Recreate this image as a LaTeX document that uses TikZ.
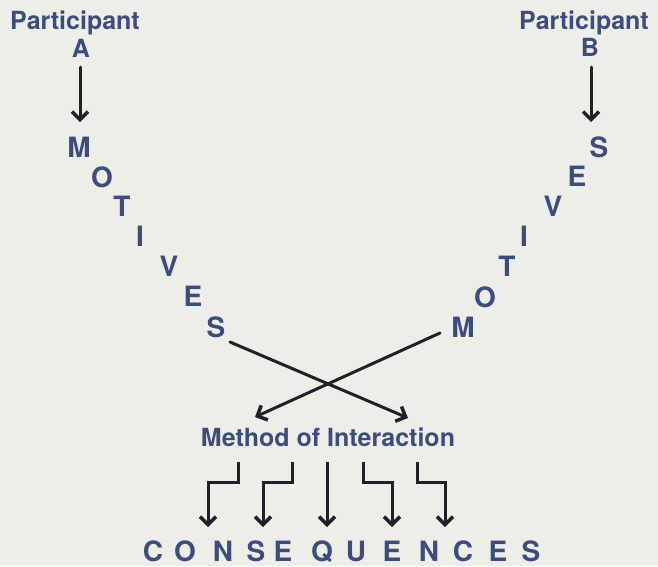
\documentclass[tikz,border=0pt]{standalone}
\usepackage{fontspec}
\setmainfont{TeX Gyre Heros}
\usetikzlibrary{arrows.meta}
\definecolor{ink}{HTML}{3A4D7E}
\definecolor{bg}{HTML}{EEEEE8}
\definecolor{arr}{HTML}{202028}
\begin{document}
\begin{tikzpicture}[x=1pt,y=-1pt,
  lab/.style={font=\fontsize{25}{25}\selectfont\bfseries, text=ink, inner sep=0pt, anchor=base},
  big/.style={font=\fontsize{28}{28}\selectfont\bfseries, text=ink, inner sep=0pt, anchor=base},
  conn/.style={draw=arr, line width=3pt, line cap=round, -{Straight Barb[length=8pt,width=16pt,line width=3.5pt]}}]
\fill[bg] (0,0) rectangle (658,566);
\useasboundingbox (0,0) rectangle (658,566);
% participants
\node[lab] (pA) at (75,29) {Participant};
\node[lab] (A) at (81,57) {A};
\node[lab] (pB) at (584,29) {Participant};
\node[lab] (B) at (590,56) {B};
% left MOTIVES
\node[big] (lM) at (79,157) {M};
\node[big] (lO) at (102,187) {O};
\node[big] (lT) at (122,216) {T};
\node[big] (lI) at (140,246) {I};
\node[big] (lV) at (169,276) {V};
\node[big] (lE) at (193,306) {E};
\node[big] (lS) at (216,337) {S};
% right MOTIVES
\node[big] (rS) at (599,157) {S};
\node[big] (rE) at (577,186) {E};
\node[big] (rV) at (553,216) {V};
\node[big] (rI) at (524,246) {I};
\node[big] (rT) at (507,276) {T};
\node[big] (rO) at (485,307) {O};
\node[big] (rM) at (463,337) {M};
% method
\node[lab] (meth) at (328,446) {Method of Interaction};
% consequences
\node[big] (c1) at (153,561) {C};
\node[big] (c2) at (185,561) {O};
\node[big] (c3) at (223,561) {N};
\node[big] (c4) at (256,561) {S};
\node[big] (c5) at (283,561) {E};
\node[big] (c6) at (322,561) {Q};
\node[big] (c7) at (356,561) {U};
\node[big] (c8) at (392,561) {E};
\node[big] (c9) at (429,561) {N};
\node[big] (c10) at (463,561) {C};
\node[big] (c11) at (498,561) {E};
\node[big] (c12) at (531,561) {S};
% connector end points
\coordinate (aTop) at (80,67);
\coordinate (aEnd) at (80,122);
\coordinate (bTop) at (591,67);
\coordinate (bEnd) at (591,122);
\coordinate (sStart) at (230,342);
\coordinate (sEnd) at (408,418);
\coordinate (mStart) at (440,333);
\coordinate (mEnd) at (255,417);
\coordinate (t1) at (238,462); \coordinate (e1) at (208,527);
\coordinate (t2) at (292,462); \coordinate (e2) at (263,527);
\coordinate (t3) at (327,462); \coordinate (e3) at (327,527);
\coordinate (t4) at (363,462); \coordinate (e4) at (392,527);
\coordinate (t5) at (417,462); \coordinate (e5) at (445,527);
% arrows
\draw[conn] (aTop) -- (aEnd);
\draw[conn] (bTop) -- (bEnd);
\draw[conn] (sStart) -- (sEnd);
\draw[conn] (mStart) -- (mEnd);
\draw[conn, line cap=butt] (t1) -- ++(0,20) -| (e1);
\draw[conn, line cap=butt] (t2) -- ++(0,20) -| (e2);
\draw[conn, line cap=butt] (t3) -- (e3);
\draw[conn, line cap=butt] (t4) -- ++(0,20) -| (e4);
\draw[conn, line cap=butt] (t5) -- ++(0,20) -| (e5);
\end{tikzpicture}
\end{document}
